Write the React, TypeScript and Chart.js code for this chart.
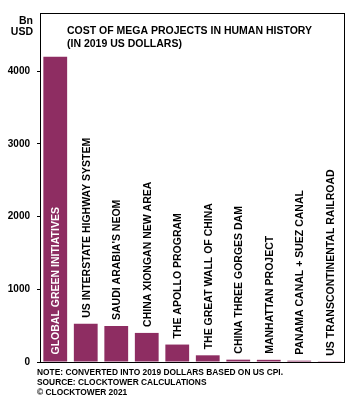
import { useEffect, useRef } from 'react';
import { Chart, registerables } from 'chart.js';
Chart.register(...registerables);

const categories = [
  'GLOBAL GREEN INITIATIVES',
  'US INTERSTATE HIGHWAY SYSTEM',
  "SAUDI ARABIA'S NEOM",
  'CHINA XIONGAN NEW AREA',
  'THE APOLLO PROGRAM',
  'THE GREAT WALL OF CHINA',
  'CHINA THREE GORGES DAM',
  'MANHATTAN PROJECT',
  'PANAMA CANAL + SUEZ CANAL',
  'US TRANSCONTINENTAL RAILROAD',
];
const costs = [4200, 525, 495, 400, 240, 92, 32, 30, 18, 3];
const yTickValues = [0, 1000, 2000, 3000, 4000];
const titleLines = ['COST OF MEGA PROJECTS IN HUMAN HISTORY', '(IN 2019 US DOLLARS)'];
const unitLines = ['Bn', 'USD'];
const noteLines = [
  'NOTE: CONVERTED INTO 2019 DOLLARS BASED ON US CPI.',
  'SOURCE: CLOCKTOWER CALCULATIONS',
  '\u00A9 CLOCKTOWER 2021',
];

const FONT = '"Liberation Sans", Arial, sans-serif';
const BAR_COLOR = '#8E2D62';

const textPlugin = {
  id: 'texts',
  afterDatasetsDraw(chart: any) {
    const ctx = chart.ctx;
    const area = chart.chartArea;
    ctx.save();
    // frame
    ctx.strokeStyle = '#000';
    ctx.lineWidth = 1;
    ctx.strokeRect(area.left + 0.5, area.top + 0.5, area.right - area.left - 1, area.bottom - area.top);
    // bar labels
    const meta = chart.getDatasetMeta(0);
    ctx.font = `bold 10.5px ${FONT}`;
    ctx.textAlign = 'left';
    ctx.textBaseline = 'alphabetic';
    meta.data.forEach((bar: any, i: number) => {
      const props = bar.getProps(['x', 'y', 'base'], true);
      ctx.save();
      const startY = i === 0 ? props.base - 7 : props.y - 6;
      ctx.translate(props.x + 3.8, startY);
      ctx.rotate(-Math.PI / 2);
      ctx.fillStyle = i === 0 ? '#fff' : '#000';
      ctx.fillText(categories[i], 0, 0);
      ctx.restore();
    });
    // title
    ctx.fillStyle = '#000';
    ctx.font = `bold 10.5px ${FONT}`;
    ctx.textAlign = 'left';
    ctx.fillText(titleLines[0], 67, 34);
    ctx.fillText(titleLines[1], 67, 46.5);
    // units
    ctx.textAlign = 'right';
    ctx.fillText(unitLines[0], 33, 23.5);
    ctx.fillText(unitLines[1], 33, 34.5);
    // notes
    ctx.textAlign = 'left';
    ctx.font = `bold 8.4px ${FONT}`;
    ctx.fillText(noteLines[0], 37, 375);
    ctx.fillText(noteLines[1], 37, 385);
    ctx.fillText(noteLines[2], 37, 395);
    ctx.restore();
  },
};

export default function App() {
  const ref = useRef<HTMLCanvasElement | null>(null);
  useEffect(() => {
    document.body.style.margin = '0';
    if (!ref.current) return;
    const chart = new Chart(ref.current, {
      type: 'bar',
      data: {
        labels: categories,
        datasets: [
          {
            data: costs,
            backgroundColor: BAR_COLOR,
            borderWidth: 0,
            barPercentage: 0.78,
            categoryPercentage: 1,
          },
        ],
      },
      options: {
        animation: false,
        responsive: true,
        maintainAspectRatio: false,
        layout: { padding: { left: 0, top: 13, right: 12, bottom: 40 } },
        plugins: { legend: { display: false }, tooltip: { enabled: false }, title: { display: false } },
        scales: {
          x: { display: false },
          y: {
            min: 0,
            max: 4800,
            afterBuildTicks: (scale: any) => {
              scale.ticks = yTickValues.map((v) => ({ value: v }));
            },
            afterFit: (scale: any) => {
              scale.width = 40;
            },
            border: { display: false },
            grid: { display: true, drawOnChartArea: false, drawTicks: true, tickLength: 3, color: '#000' },
            ticks: {
              padding: 7,
              color: '#000',
              font: { family: FONT, size: 10, weight: 'bold' },
              callback: (v: any) => String(v),
            },
          },
        },
      },
      plugins: [textPlugin],
    });
    return () => chart.destroy();
  }, []);
  return (
    <div style={{ width: 357, height: 402, position: 'relative' }}>
      <canvas ref={ref} />
    </div>
  );
}
